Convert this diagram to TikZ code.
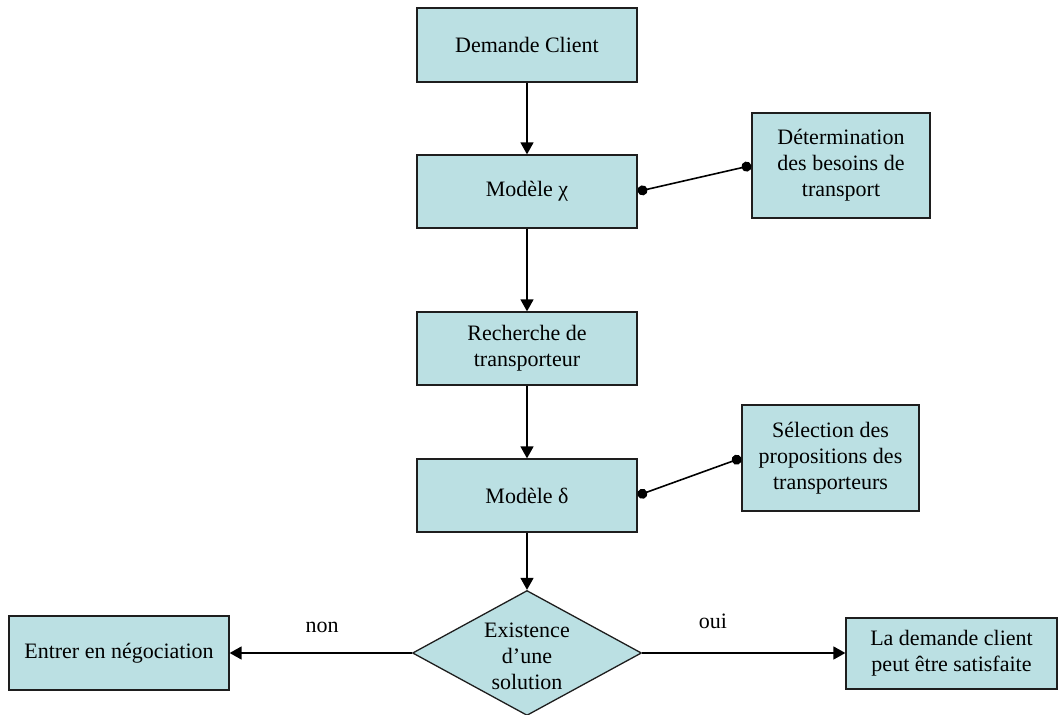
\documentclass[tikz,border=0pt]{standalone}
\usepackage{fontspec}
\setmainfont{Liberation Serif}
\usetikzlibrary{arrows.meta,shapes.geometric}
\definecolor{boxfill}{RGB}{187,224,227}
\definecolor{edgecol}{RGB}{30,30,30}
\begin{document}
\begin{tikzpicture}[x=0.5pt,y=-0.5pt,
  box/.style={draw=edgecol,line width=0.65pt,fill=boxfill,align=center,inner sep=0pt,
    font=\fontsize{11}{13}\selectfont},
  flow/.style={draw=black,line width=0.8pt,-{Triangle[length=6pt,width=6.5pt]}},
  link/.style={draw=black,line width=0.8pt,{Circle[length=5pt]}-{Circle[length=5pt]}},
  lbl/.style={font=\fontsize{11}{13}\selectfont,inner sep=0pt,align=center}]
\useasboundingbox (0,0) rectangle (1059,715);

\node[box,minimum width=110pt,minimum height=37pt] (demande) at (527,45) {Demande Client};
\node[box,minimum width=110pt,minimum height=36.5pt] (modeleX) at (527,191.5) {Modèle χ};
\node[box,minimum width=110pt,minimum height=36.5pt] (recherche) at (527,348.5) {Recherche de\\transporteur};
\node[box,minimum width=110pt,minimum height=36.5pt] (modeleD) at (527,495.5) {Modèle δ};
\node[box,minimum width=89pt,minimum height=52.5pt] (determ) at (841,165.5) {Détermination\\des besoins de\\transport};
\node[box,minimum width=88.5pt,minimum height=53pt] (select) at (830.5,458) {Sélection des\\propositions des\\transporteurs};
\node[box,minimum width=110pt,minimum height=37pt] (entrer) at (119,653) {Entrer en négociation};
\node[box,minimum width=105.5pt,minimum height=35.5pt] (satis) at (951.5,653.5) {La demande client\\peut être satisfaite};

\node[diamond,draw=edgecol,line width=0.65pt,fill=boxfill,inner sep=0pt,
  minimum width=114.5pt,minimum height=62.5pt] (sol) at (527,653) {};
\node[lbl] (soltxt) at (527,656) {Existence\\d’une\\solution};

\node[lbl] (non) at (322,627) {non};
\node[lbl] (oui) at (713,621) {oui};

\draw[flow] (demande.south) -- (modeleX.north);
\draw[flow] (modeleX.south) -- (recherche.north);
\draw[flow] (recherche.south) -- (modeleD.north);
\draw[flow] (modeleD.south) -- (sol.north);
\draw[flow] (sol.west) -- (sol.west -| entrer.east);
\draw[flow] (sol.east) -- (sol.east -| satis.west);

\draw[link] (modeleX.east) -- (determ.west);
\draw[link] (modeleD.east) -- (select.west);
\end{tikzpicture}
\end{document}
